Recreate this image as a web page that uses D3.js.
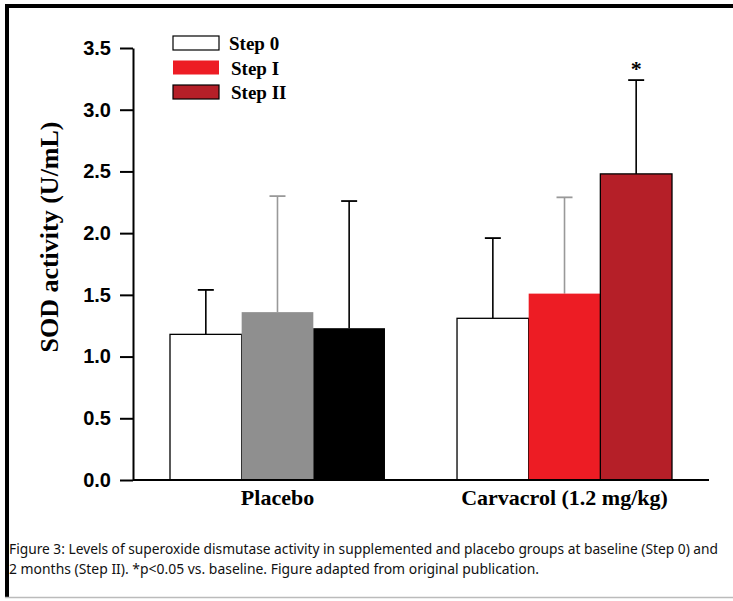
<!DOCTYPE html>
<html><head><meta charset="utf-8">
<script src="https://cdn.jsdelivr.net/npm/d3@7"></script>
<style>body{margin:0;background:#fff}svg{display:block}</style>
</head><body>
<script>
const groups = ["Placebo", "Carvacrol (1.2 mg/kg)"];
const steps = ["Step 0", "Step I", "Step II"];
const means = [[1.18, 1.36, 1.23], [1.31, 1.51, 2.48]];
const errs  = [[0.36, 0.94, 1.03], [0.65, 0.78, 0.76]];
const yTicks = [0.0, 0.5, 1.0, 1.5, 2.0, 2.5, 3.0, 3.5];
const sig = [["", "", ""], ["", "", "*"]];

const barColors = [["#ffffff", "#8f8f8f", "#000000"], ["#ffffff", "#ed1c24", "#b51f28"]];
const errColors = [["#000", "#999", "#000"], ["#000", "#999", "#000"]];
const legendColors = ["#ffffff", "#ed1c24", "#b51f28"];

const W = 733, H = 601;
const svg = d3.select("body").append("svg").attr("width", W).attr("height", H);

// frame
svg.append("rect").attr("x",5).attr("y",4).attr("width",W-5).attr("height",4).attr("fill","#000");
svg.append("rect").attr("x",5).attr("y",4).attr("width",4).attr("height",594).attr("fill","#000");
svg.append("line").attr("x1",5).attr("x2",W).attr("y1",597.5).attr("y2",597.5).attr("stroke","#bbb").attr("stroke-width",1.5);

const y = d3.scaleLinear().domain([0, 3.5]).range([480, 48]);
const x0 = d3.scaleBand().domain(groups).range([170, 672]).paddingInner(0.251).paddingOuter(0);
const x1 = d3.scaleBand().domain(steps).range([0, x0.bandwidth()]);

// bars
groups.forEach((g, gi) => {
  steps.forEach((s, si) => {
    const bx = x0(g) + x1(s), bw = x1.bandwidth();
    const cx = bx + bw / 2;
    const top = y(means[gi][si]), et = y(means[gi][si] + errs[gi][si]);
    svg.append("line").attr("x1",cx).attr("x2",cx).attr("y1",top).attr("y2",et)
      .attr("stroke",errColors[gi][si]).attr("stroke-width",1.6);
    svg.append("line").attr("x1",cx-8).attr("x2",cx+8).attr("y1",et).attr("y2",et)
      .attr("stroke",errColors[gi][si]).attr("stroke-width",1.8);
    const c = barColors[gi][si];
    svg.append("rect").attr("x",bx).attr("y",top).attr("width",bw).attr("height",y(0)-top)
      .attr("fill",c)
      .attr("stroke", (c === "#ffffff" || c === "#b51f28") ? "#000" : "none")
      .attr("stroke-width",1.3);
    if (sig[gi][si]) {
      svg.append("text").attr("x",cx).attr("y",et-4).attr("text-anchor","middle")
        .attr("font-family","Liberation Serif").attr("font-weight","bold").attr("font-size",22)
        .text(sig[gi][si]);
    }
  });
});

// y axis
const yAxis = svg.append("g").attr("transform","translate(133,0)")
  .call(d3.axisLeft(y).tickValues(yTicks).tickFormat(d3.format(".1f")).tickSize(13).tickSizeOuter(0));
yAxis.select(".domain").attr("stroke","#000").attr("stroke-width",2);
yAxis.selectAll(".tick line").attr("stroke","#000").attr("stroke-width",2);
yAxis.selectAll(".tick text").attr("font-family","Liberation Sans").attr("font-weight","bold")
  .attr("font-size",20).attr("fill","#000").attr("x",-22);

// x axis
const xAxis = svg.append("g").attr("transform","translate(0,480)")
  .call(d3.axisBottom(x0).tickSize(0).tickSizeOuter(0));
xAxis.select(".domain").attr("stroke","#000").attr("stroke-width",2).attr("d","M133,0H709");
xAxis.selectAll(".tick text").attr("font-family","Liberation Serif").attr("font-weight","bold")
  .attr("font-size",22).attr("fill","#000").attr("dy",0).attr("y",25);

// y label
svg.append("text").attr("transform","translate(58,237) rotate(-90)").attr("text-anchor","middle")
  .attr("font-family","Liberation Serif").attr("font-weight","bold").attr("font-size",26)
  .text("SOD activity (U/mL)");

// legend
const leg = svg.append("g");
steps.forEach((s, i) => {
  const ly = 36 + i * 24.5;
  leg.append("rect").attr("x",173).attr("y",ly).attr("width",46).attr("height",14)
    .attr("fill",legendColors[i]).attr("stroke", i === 1 ? "none" : "#000").attr("stroke-width",1.2);
  leg.append("text").attr("x", i === 0 ? 229 : 231).attr("y",ly+14).attr("font-family","Liberation Serif")
    .attr("font-weight","bold").attr("font-size",19).text(s);
});

// caption
const cap = ["Figure 3: Levels of superoxide dismutase activity in supplemented and placebo groups at baseline (Step 0) and",
             "2 months (Step II). *p<0.05 vs. baseline. Figure adapted from original publication."];
const capW = [709, 530];
cap.forEach((t, i) => {
  svg.append("text").attr("x",9).attr("y",554 + i*20).attr("font-family","Noto Sans")
    .attr("font-size",14).attr("fill","#111").attr("textLength",capW[i]).attr("lengthAdjust","spacingAndGlyphs").text(t);
});
</script>
</body></html>
